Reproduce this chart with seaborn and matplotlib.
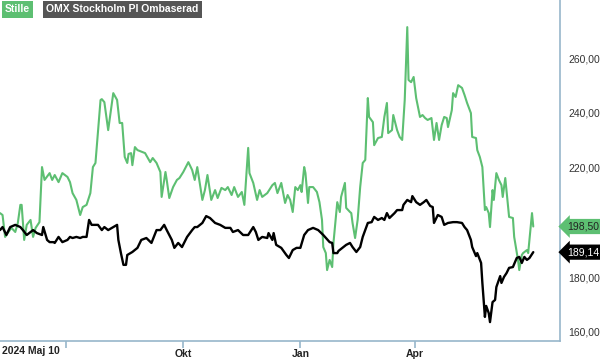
import numpy as np
import pandas as pd
import matplotlib
matplotlib.use("Agg")
import matplotlib.pyplot as plt
import matplotlib.transforms as mtransforms
import seaborn as sns

# data: dagar sedan 2024-05-10 och kurs
start = pd.Timestamp("2024-05-10")

stille_days = [0, 2, 4, 6, 9, 12, 14, 16, 17, 19, 21, 24, 26, 28, 31, 33, 35, 39, 41, 43,
               46, 49, 53, 55, 57, 60, 63, 65, 68, 71, 73, 75, 79, 80, 82, 85, 89, 92, 94, 96,
               98, 100, 101, 103, 104, 106, 108, 114, 118, 120, 123, 126, 127, 130, 131, 133, 136, 139, 141, 144,
               148, 151, 153, 155, 159, 161, 163, 166, 169, 171, 174, 177, 179, 182, 184, 187, 190, 192, 195, 196,
               199, 202, 204, 206, 210, 214, 216, 218, 221, 224, 226, 228, 230, 232, 234, 236, 237, 239, 240, 242,
               243, 246, 249, 251, 253, 254, 256, 257, 259, 261, 262, 265, 267, 268, 271, 272, 275, 276, 277, 279,
               281, 283, 285, 287, 289, 290, 293, 294, 297, 300, 302, 304, 305, 308, 309, 312, 314, 316, 318, 320,
               321, 323, 325, 327, 330, 332, 334, 336, 339, 341, 343, 345, 347, 349, 351, 352, 355, 356, 358, 360,
               363, 365, 367, 370, 371, 374, 375, 377, 379, 381, 382, 384, 385, 387, 388, 390, 392, 394, 395, 397,
               400, 403, 404, 407, 408, 410, 411, 414, 415, 418, 419]
stille_vals = [203.4, 202.7, 194.7, 196.1, 198.0, 196.5, 199.8, 206.4, 206.4, 193.6, 199.1, 200.9, 194.7, 198.0, 200.1, 220.2, 215.5, 218.0, 215.5, 217.3,
               214.7, 218.0, 216.6, 214.7, 210.7, 208.2, 202.7, 205.6, 206.4, 210.7, 220.2, 221.7, 244.7, 245.0, 243.9, 233.7, 247.2, 244.7, 236.3, 236.3,
               223.9, 221.7, 225.0, 225.3, 220.9, 227.5, 226.4, 225.3, 222.0, 223.5, 221.7, 218.4, 209.3, 218.4, 215.5, 208.9, 212.9, 215.5, 216.2, 218.4,
               222.0, 219.1, 215.5, 220.2, 208.2, 211.8, 217.3, 208.2, 211.8, 208.9, 212.6, 211.8, 212.9, 210.0, 212.9, 209.3, 211.1, 206.4, 227.2, 218.0,
               214.4, 208.2, 211.8, 209.3, 210.7, 213.6, 214.4, 210.7, 214.4, 207.1, 210.0, 208.2, 203.8, 212.9, 211.8, 213.6, 211.1, 220.2, 218.0, 207.1,
               212.9, 212.9, 211.1, 207.4, 200.9, 191.0, 188.8, 182.6, 186.3, 183.7, 192.5, 207.4, 203.8, 209.3, 214.4, 205.3, 203.8, 203.4, 199.8, 194.3,
               200.9, 212.9, 221.7, 222.8, 245.4, 238.5, 236.6, 228.2, 230.8, 231.2, 238.5, 243.6, 232.6, 233.7, 239.2, 233.7, 231.2, 230.1, 244.7, 271.3,
               252.0, 251.2, 253.1, 245.4, 238.5, 239.2, 238.1, 237.4, 238.1, 230.1, 236.3, 230.1, 235.5, 238.5, 238.1, 234.8, 241.0, 247.2, 245.8, 250.1,
               249.1, 246.5, 243.6, 239.9, 231.2, 230.8, 226.4, 223.9, 220.2, 204.5, 205.6, 203.4, 198.3, 211.8, 208.2, 218.0, 215.5, 213.6, 209.3, 216.2,
               202.0, 201.6, 194.7, 186.3, 182.6, 188.1, 188.8, 189.9, 188.8, 203.4, 198.5]

omx_days = [0, 2, 5, 8, 12, 16, 18, 21, 24, 26, 29, 33, 34, 37, 39, 42, 43, 46, 49, 53,
            55, 57, 60, 63, 65, 68, 70, 72, 75, 77, 80, 82, 85, 89, 92, 93, 95, 97, 99, 100,
            104, 108, 111, 115, 119, 123, 126, 129, 131, 135, 137, 140, 143, 147, 151, 153, 155, 159, 162, 165,
            169, 173, 177, 181, 183, 187, 191, 195, 199, 201, 203, 206, 210, 211, 214, 215, 217, 221, 225, 227,
            230, 233, 236, 239, 242, 246, 250, 254, 259, 261, 262, 265, 266, 269, 272, 275, 277, 280, 283, 285,
            289, 292, 294, 297, 300, 302, 304, 306, 310, 312, 316, 317, 320, 323, 324, 327, 330, 333, 335, 338,
            340, 341, 344, 347, 349, 352, 356, 359, 363, 365, 367, 370, 371, 374, 375, 378, 379, 381, 382, 384,
            385, 387, 389, 390, 393, 394, 396, 398, 400, 403, 406, 408, 410, 412, 414, 416, 419]
omx_vals = [197.2, 198.3, 195.4, 198.3, 199.1, 198.3, 197.2, 195.4, 196.5, 197.2, 196.1, 195.4, 198.3, 193.6, 192.8, 192.8, 192.5, 194.7, 192.8, 193.6,
            194.7, 194.3, 194.7, 194.3, 194.7, 194.7, 200.9, 199.1, 199.1, 199.1, 197.2, 198.3, 197.2, 198.3, 199.1, 193.6, 188.8, 184.5, 184.5, 188.1,
            189.2, 190.7, 193.6, 194.3, 192.5, 197.2, 197.2, 199.1, 197.2, 193.6, 190.7, 192.5, 191.0, 194.7, 197.2, 198.3, 198.3, 199.8, 202.3, 201.6,
            199.8, 199.1, 198.0, 198.0, 196.5, 197.2, 195.4, 195.4, 198.3, 196.5, 193.6, 194.7, 194.3, 196.1, 193.6, 196.1, 191.8, 190.7, 188.1, 187.0,
            189.9, 190.7, 190.7, 195.4, 197.2, 198.0, 197.2, 195.4, 192.8, 192.5, 188.8, 188.8, 189.6, 190.7, 191.8, 192.5, 191.0, 189.2, 191.0, 194.7,
            199.8, 200.1, 202.0, 200.9, 201.6, 200.9, 203.4, 201.6, 203.4, 204.5, 204.5, 206.4, 208.2, 207.4, 209.6, 207.4, 206.4, 207.4, 208.2, 206.0,
            205.6, 199.8, 202.7, 202.0, 199.1, 199.8, 200.1, 200.1, 199.8, 198.3, 197.2, 193.6, 191.0, 187.7, 188.8, 185.2, 177.9, 165.5, 169.5, 166.9,
            163.6, 170.9, 171.7, 176.4, 180.4, 177.9, 180.1, 181.5, 183.4, 183.7, 187.0, 187.4, 185.2, 187.4, 186.3, 187.0, 189.14]

stille_name = "Stille"
omx_name = "OMX Stockholm PI Ombaserad"
y_ticks = [160, 180, 200, 220, 240, 260]
x_tick_dates = ["2024-07-01", "2024-10-01", "2025-01-01", "2025-04-01"]
x_tick_labels = ["", "Okt", "Jan", "Apr"]
start_label = "2024 Maj 10"

green = "#5dbf72"
spine_col = "#97b6cb"

df_s = pd.DataFrame({"datum": start + pd.to_timedelta(stille_days, unit="D"), "kurs": stille_vals})
df_o = pd.DataFrame({"datum": start + pd.to_timedelta(omx_days, unit="D"), "kurs": omx_vals})

sns.set_style("white")
plt.rcParams["font.family"] = ["Liberation Sans", "DejaVu Sans"]

fig = plt.figure(figsize=(6, 3.6), dpi=100)
ax = fig.add_axes([0.0, 1 - 341 / 360, 560 / 600, 341 / 360])

sns.lineplot(data=df_s, x="datum", y="kurs", color=green, linewidth=1.5, ax=ax)
sns.lineplot(data=df_o, x="datum", y="kurs", color="black", linewidth=1.7, ax=ax)

ax.set_xlim(start, start + pd.Timedelta(days=440))
ax.set_ylim(156.7, 281.2)
ax.set_xlabel("")
ax.set_ylabel("")

# axlar
for s in ["left", "top"]:
    ax.spines[s].set_visible(False)
for s in ["bottom", "right"]:
    ax.spines[s].set_color(spine_col)
    ax.spines[s].set_linewidth(1.2)

# 200-etiketten ligger dold bakom den gröna värdeetiketten
ax.yaxis.tick_right()
ax.set_yticks(y_ticks)
ax.set_yticklabels(["" if v == 200 else "{:.2f}".format(v).replace(".", ",") for v in y_ticks])
ax.tick_params(axis="y", length=0, pad=6, labelsize=7.5, labelcolor="#333333")

ax.set_xticks(pd.to_datetime(x_tick_dates))
ax.set_xticklabels(x_tick_labels)
ax.tick_params(axis="x", bottom=True, direction="out", length=5, width=1.2, color=spine_col,
               pad=0.5, labelsize=7.5, labelcolor="#222222")
for lab in ax.get_xticklabels():
    lab.set_fontweight("bold")
ax.text(0.003, -0.016, start_label, transform=ax.transAxes, ha="left", va="top",
        fontsize=7.5, fontweight="bold", color="#222222")

# legend-rutor
fig.text(5 / 600, 1 - 9.5 / 360, stille_name, ha="left", va="center", fontsize=7.5,
         fontweight="bold", color="white",
         bbox=dict(boxstyle="square,pad=0.3", fc=green, ec="none"))
fig.text(46 / 600, 1 - 9.5 / 360, omx_name, ha="left", va="center", fontsize=7.5,
         fontweight="bold", color="white",
         bbox=dict(boxstyle="square,pad=0.3", fc="#555555", ec="none"))

# senaste värde
trans = mtransforms.blended_transform_factory(ax.transAxes, ax.transData)
ax.text(1.012, stille_vals[-1], "{:.2f}".format(stille_vals[-1]).replace(".", ","),
        transform=trans, ha="left", va="center", fontsize=7.5, color="#222222",
        clip_on=False, zorder=5,
        bbox=dict(boxstyle="larrow,pad=0.25", fc=green, ec="none"))
ax.text(1.012, omx_vals[-1], "{:.2f}".format(omx_vals[-1]).replace(".", ","),
        transform=trans, ha="left", va="center", fontsize=7.5, color="white",
        clip_on=False, zorder=5,
        bbox=dict(boxstyle="larrow,pad=0.25", fc="black", ec="none"))

fig.savefig("out.png", dpi=100)
plt.close()
